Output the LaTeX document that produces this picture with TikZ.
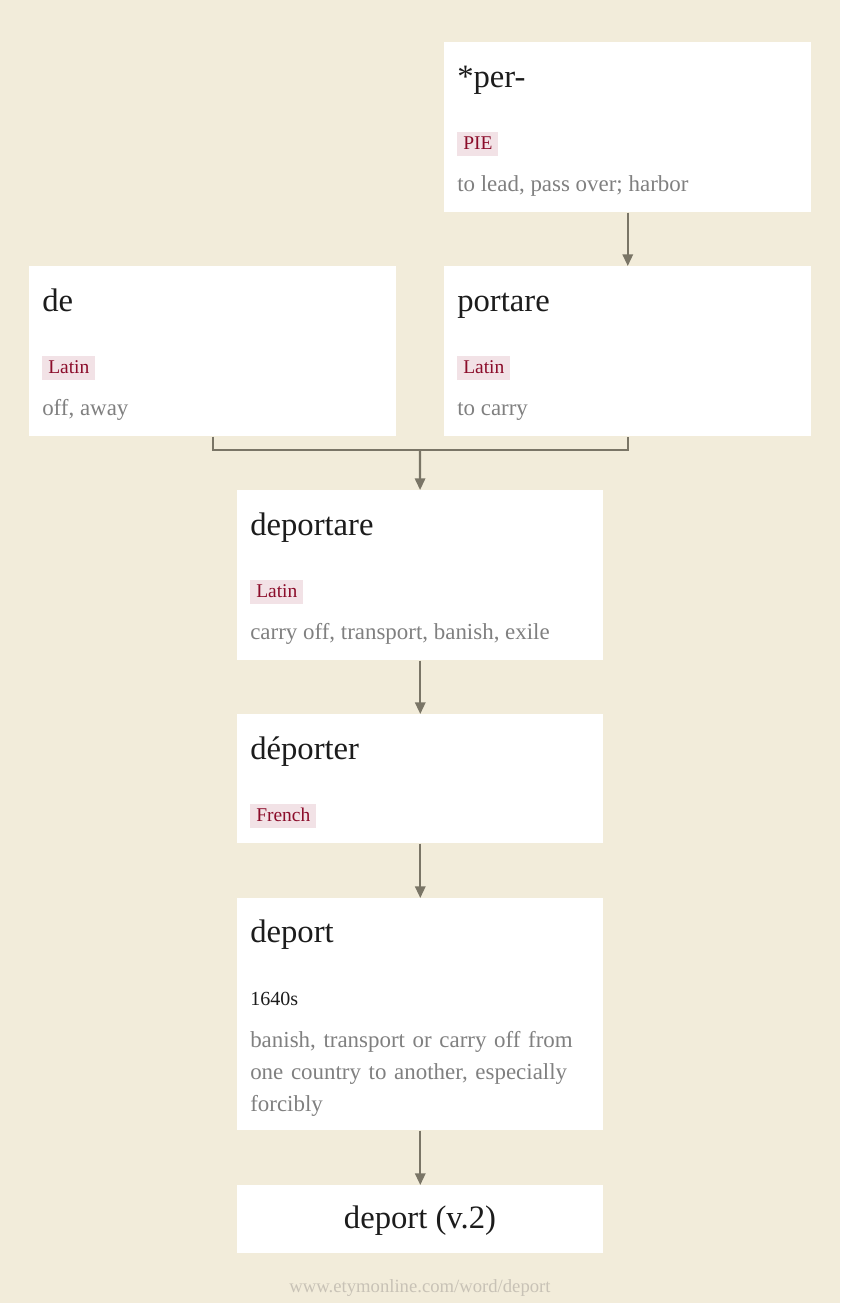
\documentclass[tikz,border=0pt]{standalone}
\usepackage{fontspec}
\setmainfont{Liberation Serif}
\usetikzlibrary{arrows.meta}
\definecolor{paper}{RGB}{242,236,218}
\definecolor{link}{RGB}{122,117,102}
\definecolor{tagbg}{RGB}{242,226,230}
\definecolor{tagfg}{RGB}{139,12,42}
\definecolor{gloss}{RGB}{128,128,128}
\definecolor{word}{RGB}{28,28,28}
\definecolor{site}{RGB}{200,194,182}

\begin{document}
\begin{tikzpicture}[x=0.75pt,y=-0.75pt,
    card/.style={rectangle,fill=white,inner sep=0pt,anchor=north west,minimum width=367*0.75pt},
    head/.style={anchor=base west,inner sep=0pt,text=word,font=\fontsize{24.5}{28}\selectfont},
    lang/.style={anchor=base west,inner xsep=4.5pt,inner ysep=3pt,text height=9.6pt,text depth=2.3pt,fill=tagbg,text=tagfg,font=\fontsize{14.6}{16}\selectfont},
    gls/.style={anchor=base west,inner sep=0pt,text=gloss,font=\fontsize{17.2}{24}\selectfont},
    link/.style={draw=link,line width=1.6pt},
    arr/.style={link,-{Triangle[width=7.8pt,length=8.8pt]}}]
  \fill[paper] (0,0) rectangle (840,1303);

  % row 1
  \node [card,minimum height=170*0.75pt] (per) at (444,42) {};
  \node [head] (perW) at (457,87) {*per-};
  \node [lang] (perL) at (457,149) {PIE};
  \node [gls] (perG) at (457,191) {to lead, pass over; harbor};
  % row 2
  \node [card,minimum height=170*0.75pt] (de) at (29,266) {};
  \node [head] (deW) at (42,311) {de};
  \node [lang] (deL) at (42,373) {Latin};
  \node [gls] (deG) at (42,415) {off, away};
  \node [card,minimum height=170*0.75pt] (portare) at (444,266) {};
  \node [head] (portareW) at (457,311) {portare};
  \node [lang] (portareL) at (457,373) {Latin};
  \node [gls] (portareG) at (457,415) {to carry};
  % row 3
  \node [card,minimum width=366*0.75pt,minimum height=170*0.75pt] (deportare) at (237,490) {};
  \node [head] (deportareW) at (250,535) {deportare};
  \node [lang] (deportareL) at (250,597) {Latin};
  \node [gls] (deportareG) at (250,639) {carry off, transport, banish, exile};
  % row 4
  \node [card,minimum width=366*0.75pt,minimum height=129*0.75pt] (deporter) at (237,714) {};
  \node [head] (deporterW) at (250,759) {déporter};
  \node [lang] (deporterL) at (250,821) {French};
  % row 5
  \node [card,minimum width=366*0.75pt,minimum height=232*0.75pt] (deport) at (237,898) {};
  \node [head] (deportW) at (250,942) {deport};
  \node [anchor=base west,inner sep=0pt,text=word,font=\fontsize{15}{16}\selectfont] (deportD) at (250,1005) {1640s};
  \node [gls,align=left,text width=380*0.75pt] (deportG) at (250,1047) {banish, transport or carry off from\\one country to another, especially\\forcibly};
  % row 6
  \node [card,minimum width=366*0.75pt,minimum height=68*0.75pt] (deportvii) at (237,1185) {};
  \node [anchor=base,inner sep=0pt,text=word,font=\fontsize{24.5}{28}\selectfont] (deportviiW) at (420,1228) {deport (v.2)};
  % source
  \node [anchor=base,inner sep=0pt,text=site,font=\fontsize{14}{16}\selectfont] (src) at (420,1292) {www.etymonline.com/word/deport};

  % links
  \coordinate (merge) at (420,450);
  \draw [arr] (per) -- (portare);
  \draw [link] (de.south) |- (merge) -| (portare.south);
  \draw [arr] (merge) -- (deportare);
  \draw [arr] (deportare) -- (deporter);
  \draw [arr] (deporter) -- (deport);
  \draw [arr] (deport) -- (deportvii);
\end{tikzpicture}
\end{document}
